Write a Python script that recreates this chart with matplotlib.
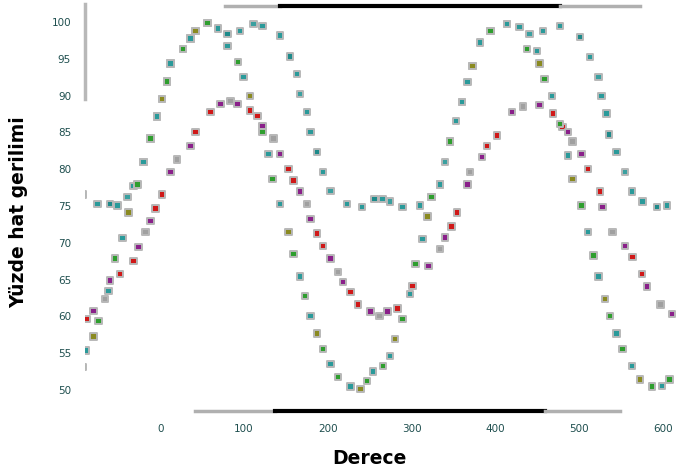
import matplotlib
matplotlib.use("Agg")
import matplotlib.pyplot as plt
import numpy as np

# ---- data (degrees, percent line voltage) ----
a_deg = [-93, -75, -60, -51, -39, -32, -20, -12, -4, 2, 8, 12, 27, 36, 42, 56, 69, 80, 95, 111,
         122, 143, 155, 163, 167, 175, 179, 187, 194, 203, 223, 241, 256, 265, 274, 289, 310, 324,
         334, 340, 346, 353, 360, 367, 373, 382, 394, 414, 429, 441, 457, 477, 501, 513, 523, 527,
         533, 536, 545, 555, 563, 576, 593, 605]
a_pct = [76.4, 75.1, 75.1, 74.9, 76.1, 77.6, 80.8, 84.0, 87.0, 89.4, 91.8, 94.2, 96.2, 97.6, 98.6,
         99.7, 99.0, 98.2, 98.6, 99.6, 99.3, 98.0, 95.2, 92.8, 90.1, 87.6, 84.9, 82.2, 79.5, 76.9,
         75.1, 74.7, 75.8, 75.8, 75.5, 74.7, 74.9, 76.1, 77.8, 80.8, 83.6, 86.4, 89.0, 91.7, 93.9,
         97.1, 98.6, 99.6, 99.2, 98.2, 98.6, 99.3, 97.8, 95.1, 92.4, 89.8, 87.4, 84.6, 82.2, 79.5,
         76.8, 75.5, 74.7, 74.9]

b_deg = [-93, -89, -80, -74, -62, -54, -45, -38, -27, -20, -12, -4, 2, 8, 12, 27, 36, 42, 56, 80,
         93, 99, 107, 122, 129, 134, 143, 153, 159, 167, 173, 179, 187, 194, 203, 212, 227, 239,
         247, 254, 266, 274, 280, 289, 298, 305, 313, 319, 324, 334, 346, 360, 373, 394, 414, 438,
         450, 453, 459, 468, 477, 487, 492, 503, 511, 517, 523, 531, 537, 545, 552, 563, 573, 587,
         599, 608]
b_pct = [53.0, 55.2, 57.1, 59.2, 63.3, 67.7, 70.5, 74.0, 77.8, 80.8, 84.0, 87.0, 89.4, 91.8, 94.2,
         96.2, 97.6, 98.6, 99.7, 96.6, 94.4, 92.4, 89.8, 84.9, 81.9, 78.5, 75.1, 71.3, 68.3, 65.3,
         62.6, 59.9, 57.5, 55.4, 53.4, 51.6, 50.3, 50.0, 51.1, 52.4, 53.1, 54.5, 56.8, 59.5, 62.9,
         67.0, 70.4, 73.4, 76.1, 77.8, 83.6, 89.0, 93.9, 98.6, 99.6, 96.2, 95.9, 94.2, 92.1, 89.8,
         86.0, 81.7, 78.5, 74.9, 71.3, 68.1, 65.3, 62.2, 59.9, 57.5, 55.4, 53.1, 51.3, 50.3, 50.4,
         51.3]

c_deg = [-88, -80, -66, -60, -48, -32, -26, -18, -12, -6, 2, 12, 20, 36, 42, 60, 72, 84, 92, 107,
         116, 122, 135, 143, 153, 159, 167, 175, 179, 187, 194, 203, 212, 218, 227, 236, 251, 262,
         271, 283, 301, 320, 334, 340, 348, 354, 367, 370, 384, 390, 402, 420, 433, 453, 469, 480,
         487, 492, 503, 511, 525, 528, 540, 555, 564, 575, 581, 597, 611]
c_pct = [59.5, 60.6, 62.2, 64.7, 65.6, 67.4, 69.3, 71.3, 72.8, 74.5, 76.4, 79.5, 81.2, 83.0, 84.9,
         87.6, 88.7, 89.1, 88.7, 87.8, 87.1, 85.7, 84.0, 81.9, 79.9, 78.3, 76.8, 75.1, 73.1, 71.1,
         69.4, 67.7, 65.9, 64.5, 63.2, 61.5, 60.5, 59.9, 60.5, 60.9, 64.0, 66.7, 69.0, 70.6, 72.1,
         74.0, 77.8, 79.5, 81.5, 83.0, 84.4, 87.6, 88.4, 88.6, 87.4, 85.6, 84.9, 83.6, 81.9, 79.9,
         76.8, 74.7, 71.3, 69.4, 67.9, 65.6, 63.9, 61.5, 60.2]

x_ticks = [0, 100, 200, 300, 400, 500, 600]
y_ticks = [100, 95, 90, 85, 80, 75, 70, 65, 60, 55, 50]

# ---- figure ----
fig = plt.figure(figsize=(6.77, 4.77), dpi=100)
ax = fig.add_axes([85 / 677, 65 / 477, 592 / 677, 407 / 477])
ax.set_xlim(-90, 617)
ax.set_ylim(47.0, 102.3)

pal_a = ['#2a9a9a', '#2a9a9a', '#1d8a8a', '#2a9a9a', '#3aa0a0']
pal_b = ['#2e9e2e', '#2a9a9a', '#8a8a20', '#2e9e2e', '#2a9a9a']
pal_c = ['#d01818', '#8a208a', '#a0a0a0', '#8a208a', '#d01818']

def cols(pal, n):
    return [pal[i % len(pal)] for i in range(n)]

kw = dict(marker='s', s=22, edgecolors='#b8b8b8', linewidths=1.4, zorder=3)
ax.scatter(c_deg, c_pct, c=cols(pal_c, len(c_deg)), **kw)
ax.scatter(a_deg, a_pct, c=cols(pal_a, len(a_deg)), **kw)
ax.scatter(b_deg, b_pct, c=cols(pal_b, len(b_deg)), **kw)

for sp in ax.spines.values():
    sp.set_visible(False)

# degraded frame pieces (axes coordinates)
tr = ax.transAxes
ax.plot([0.236, 0.329], [0.995, 0.995], color='#b0b0b0', lw=2.5, transform=tr, clip_on=False)
ax.plot([0.329, 0.802], [0.995, 0.995], color='black', lw=3, transform=tr, clip_on=False)
ax.plot([0.802, 0.9375], [0.995, 0.995], color='#b0b0b0', lw=2.5, transform=tr, clip_on=False)
ax.plot([0.186, 0.321], [0.0, 0.0], color='#b0b0b0', lw=2.5, transform=tr, clip_on=False)
ax.plot([0.321, 0.777], [0.0, 0.0], color='black', lw=3, transform=tr, clip_on=False)
ax.plot([0.777, 0.904], [0.0, 0.0], color='#b0b0b0', lw=2.5, transform=tr, clip_on=False)
ax.plot([0.0, 0.0], [0.767, 1.0], color='#b8b8b8', lw=2.5, transform=tr, clip_on=False)

ax.set_xticks(x_ticks)
ax.set_xticklabels([str(v) for v in x_ticks])
ax.set_yticks(y_ticks)
ax.set_yticklabels([str(v) for v in y_ticks])
ax.tick_params(axis='both', length=0, labelsize=7.5, labelcolor='#1f4f4f')
ax.tick_params(axis='x', pad=9)
ax.tick_params(axis='y', pad=10)

ax.set_xlabel('Derece', fontsize=13.5, fontweight='bold', family='DejaVu Sans')
ax.set_ylabel('Yüzde hat gerilimi', fontsize=13.5, fontweight='bold', family='DejaVu Sans')
ax.xaxis.set_label_coords(0.481, -0.092)
ax.yaxis.set_label_coords(-0.096, 0.49)

fig.savefig('out.png', dpi=100)
